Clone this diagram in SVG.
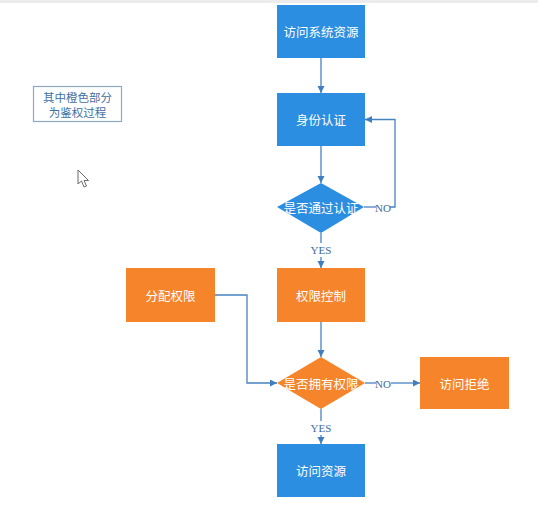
<svg xmlns="http://www.w3.org/2000/svg" width="538" height="513" viewBox="0 0 538 513">
  <defs>
    <marker id="arr" markerUnits="userSpaceOnUse" markerWidth="8" markerHeight="8" refX="7" refY="3.5" orient="auto">
      <path d="M0,0 L7,3.5 L0,7 z" fill="#3f7fbf"/>
    </marker>
    <style>
      .blue { fill: #2b8ee0; }
      .orange { fill: #f5842b; }
      .lbl { font-family: "Noto Sans CJK SC", "Noto Sans", sans-serif; font-size: 12.5px; fill: #ffffff; text-anchor: middle; dominant-baseline: central; }
      .edge { fill: none; stroke: #4683c0; stroke-width: 1.3; }
      .elbl { font-family: "Liberation Serif", serif; font-size: 11px; fill: #3d6b9c; text-anchor: middle; dominant-baseline: central; }
      .note { font-family: "Noto Sans CJK SC", sans-serif; font-size: 11.5px; fill: #3f6f9f; text-anchor: middle; dominant-baseline: central; }
    </style>
  </defs>
  <rect x="0" y="0" width="538" height="513" fill="#ffffff"/>
  <rect x="0" y="0" width="538" height="3" fill="#ececec"/>

  <g id="note">
    <rect x="33.5" y="86.5" width="88" height="35" fill="#ffffff" stroke="#8fa8c4" stroke-width="1.2"/>
    <text class="note" x="77.5" y="96.5">其中橙色部分</text>
    <text class="note" x="77.5" y="112">为鉴权过程</text>
  </g>

  <g id="cursor">
    <polygon points="78,170 78,184 81.5,181 84,187 86.5,186 84,180.5 88.5,180.5" fill="#ffffff" stroke="#6b6b6b" stroke-width="1" stroke-linejoin="round"/>
  </g>

  <g id="connectors">
    <path class="edge" d="M321,58 V93" marker-end="url(#arr)"/>
    <path class="edge" d="M321,146 V183" marker-end="url(#arr)"/>
    <path class="edge" d="M364,207 H376"/>
    <path class="edge" d="M390,207 H395 V119.5 H365" marker-end="url(#arr)"/>
    <text class="elbl" x="383" y="207.5">NO</text>
    <path class="edge" d="M321,233 V243"/>
    <path class="edge" d="M321,257 V268" marker-end="url(#arr)"/>
    <text class="elbl" x="321" y="250">YES</text>
    <path class="edge" d="M321,322 V357" marker-end="url(#arr)"/>
    <path class="edge" d="M215,295 H247 V383 H277" marker-end="url(#arr)"/>
    <path class="edge" d="M365,383 H376"/>
    <path class="edge" d="M391,383 H420" marker-end="url(#arr)"/>
    <text class="elbl" x="383" y="383.5">NO</text>
    <path class="edge" d="M321,409 V421"/>
    <path class="edge" d="M321,435 V444" marker-end="url(#arr)"/>
    <text class="elbl" x="321" y="428">YES</text>
  </g>

  <g id="n-access-system">
    <rect class="blue" x="277" y="5" width="88" height="53"/>
    <text class="lbl" x="321" y="31.5">访问系统资源</text>
  </g>
  <g id="n-auth">
    <rect class="blue" x="277" y="93" width="88" height="53"/>
    <text class="lbl" x="321" y="119.5">身份认证</text>
  </g>
  <g id="n-auth-check">
    <polygon class="blue" points="321,183 364,207 321,233 277,207"/>
    <text class="lbl" x="321" y="207.5">是否通过认证</text>
  </g>
  <g id="n-perm-control">
    <rect class="orange" x="277" y="268" width="88" height="54"/>
    <text class="lbl" x="321" y="295">权限控制</text>
  </g>
  <g id="n-assign">
    <rect class="orange" x="126" y="268" width="89" height="54"/>
    <text class="lbl" x="170.5" y="295">分配权限</text>
  </g>
  <g id="n-perm-check">
    <polygon class="orange" points="321,357 365,383 321,409 277,383"/>
    <text class="lbl" x="321" y="383.5">是否拥有权限</text>
  </g>
  <g id="n-deny">
    <rect class="orange" x="420" y="357" width="89" height="52"/>
    <text class="lbl" x="464.5" y="383">访问拒绝</text>
  </g>
  <g id="n-access">
    <rect class="blue" x="277" y="444" width="88" height="53"/>
    <text class="lbl" x="321" y="470.5">访问资源</text>
  </g>
</svg>
